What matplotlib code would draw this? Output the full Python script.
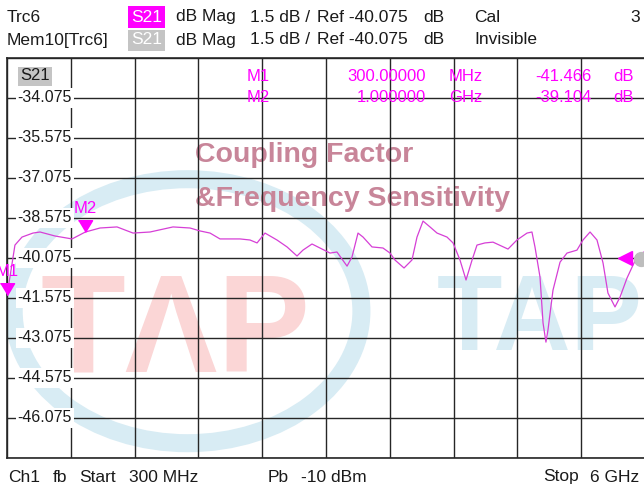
import matplotlib

matplotlib.use("Agg")

import matplotlib.pyplot as plt
from matplotlib.patches import Ellipse, Rectangle
from matplotlib.transforms import blended_transform_factory
import numpy as np

# instrument settings
START_GHZ = 0.3
STOP_GHZ = 6.0
REF_DB = -40.075
DB_PER_DIV = 1.5
N_DIV = 10

# trace
FREQ_GHZ = [0.300, 0.336, 0.371, 0.434, 0.532, 0.595, 0.729, 0.881, 1.000, 1.131,
            1.283, 1.426, 1.578, 1.783, 1.935, 2.024, 2.114, 2.203, 2.382, 2.471,
            2.534, 2.605, 2.712, 2.802, 2.891, 2.944, 3.025, 3.096, 3.186, 3.248,
            3.338, 3.382, 3.436, 3.481, 3.561, 3.659, 3.722, 3.766, 3.847, 3.918,
            3.963, 4.017, 4.079, 4.142, 4.231, 4.285, 4.347, 4.401, 4.455, 4.499,
            4.570, 4.642, 4.776, 4.856, 4.946, 4.990, 5.017, 5.062, 5.089, 5.115,
            5.133, 5.178, 5.241, 5.303, 5.392, 5.446, 5.509, 5.571, 5.625, 5.669,
            5.732, 5.777, 5.839, 5.893, 5.937, 5.991]
S21_DB = [-41.47, -40.53, -39.59, -39.29, -39.14, -39.10, -39.25, -39.36, -39.10, -38.95,
          -38.91, -39.14, -39.10, -38.91, -38.95, -39.06, -39.14, -39.36, -39.36, -39.40,
          -39.51, -39.14, -39.40, -39.66, -40.00, -39.78, -39.55, -39.70, -39.89, -39.85,
          -40.38, -40.04, -39.14, -39.29, -39.66, -39.70, -39.89, -40.15, -40.45, -40.15,
          -39.29, -38.69, -38.91, -39.14, -39.29, -39.51, -40.15, -40.90, -40.15, -39.59,
          -39.51, -39.48, -39.74, -39.40, -39.14, -39.10, -39.66, -40.79, -42.51, -43.23,
          -42.78, -41.28, -40.23, -39.89, -39.78, -39.40, -39.10, -39.40, -40.26, -41.39,
          -41.91, -41.54, -40.83, -40.34, -39.96, -39.85]

MARKER_NAMES = ["M1", "M2"]
MARKER_FREQ_GHZ = [0.3, 1.0]
MARKER_FREQ_TEXT = ["300.00000", "1.000000"]
MARKER_UNIT = ["MHz", "GHz"]
MARKER_DB = [-41.466, -39.104]

MAGENTA = "#ff00ff"
TRACE = "#d63fd6"
GRID = "#262626"
W, H = 644, 488

plt.rcParams["font.family"] = ["Liberation Sans", "DejaVu Sans"]


def fx(x):
    return x / W


def fy(y):
    return 1 - y / H


def put(fig, x, y, s, ha="left", size=12.5, color="#1a1a1a", **kw):
    fig.text(fx(x), fy(y), s, ha=ha, va="center", fontsize=size, color=color, **kw)


def box(fig, x0, y0, x1, y1, color):
    fig.patches.append(Rectangle((fx(x0), fy(y1)), (x1 - x0) / W, (y1 - y0) / H,
                                 transform=fig.transFigure, facecolor=color,
                                 edgecolor="none"))


fig = plt.figure(figsize=(W / 100, H / 100), dpi=100)
ax = fig.add_axes([fx(7), 30 / H, 638 / W, 400 / H])

ymin = REF_DB - DB_PER_DIV * N_DIV / 2
ymax = REF_DB + DB_PER_DIV * N_DIV / 2
ax.set_xlim(START_GHZ, STOP_GHZ)
ax.set_ylim(ymin, ymax)
ax.set_xticks(np.linspace(START_GHZ, STOP_GHZ, N_DIV + 1))
yt = np.linspace(ymin, ymax, N_DIV + 1)
ax.set_yticks(yt)
ax.tick_params(length=0, labelbottom=False, labelleft=False)
ax.grid(True, color=GRID, linewidth=1.0)
for s in ax.spines.values():
    s.set_color(GRID)
    s.set_linewidth(1.2)

# watermark logo
ax.add_patch(Ellipse((0.283, 0.367), 0.545, 0.66, transform=ax.transAxes,
                     fill=False, edgecolor="#d8ecf4", linewidth=13, zorder=0.5))
ax.text((40 - 7) / 638, (458 - 372) / 400, "TΛP", transform=ax.transAxes,
        fontsize=100, fontweight="bold", color="#fbd6d6", ha="left",
        va="baseline", zorder=0.6)
ax.text((437 - 7) / 638, (458 - 350) / 400, "TAP", transform=ax.transAxes,
        fontsize=77, fontweight="bold", color="#d8ecf4", ha="left",
        va="baseline", zorder=0.6)
ax.text((195 - 7) / 638, (458 - 162) / 400, "Coupling Factor", transform=ax.transAxes,
        fontsize=20.5, fontweight="bold", color="#c88599", ha="left", va="baseline",
        zorder=0.7)
ax.text((195 - 7) / 638, (458 - 206) / 400, "&Frequency Sensitivity",
        transform=ax.transAxes, fontsize=20.5, fontweight="bold", color="#c88599",
        ha="left", va="baseline", zorder=0.7)

# y labels on white boxes
lab_tr = blended_transform_factory(ax.transAxes, ax.transData)
for v in yt[1:-1]:
    ax.text((72 - 7) / 638, v, f"{v:.3f}", transform=lab_tr, ha="right", va="center",
            fontsize=11.5, color="#1a1a1a", zorder=2.5,
            bbox=dict(facecolor="white", edgecolor="none", pad=1.5))

ax.text((20 - 7) / 638, (458 - 76) / 400, "S21", transform=ax.transAxes, ha="left",
        va="center", fontsize=12, color="#1a1a1a", zorder=2.5,
        bbox=dict(facecolor="#c4c4c4", edgecolor="none", pad=1.5))

ax.plot(FREQ_GHZ, S21_DB, color=TRACE, linewidth=0.9, zorder=3)

tri = [(-0.6, 1.0), (0.6, 1.0), (0.0, 0.0)]
for name, f, d in zip(MARKER_NAMES, MARKER_FREQ_GHZ, MARKER_DB):
    ax.plot([f], [d], marker=tri, markersize=17, color=MAGENTA, zorder=4,
            clip_on=False)
    ax.annotate(name, (f, d), xytext=(0, 17), textcoords="offset points",
                ha="center", va="center", fontsize=12, color=MAGENTA, zorder=4,
                annotation_clip=False)

# reference level arrows at right edge
ax.plot([(625 - 7) / 638], [REF_DB], marker="<", markersize=10, color=MAGENTA,
        transform=lab_tr, zorder=4, clip_on=False)
ax.plot([(641 - 7) / 638], [REF_DB - 0.05], marker="o", markersize=10, color="#bdbdbd",
        transform=lab_tr, zorder=3.9, clip_on=False)

# marker table
for i, name in enumerate(MARKER_NAMES):
    y = 76 + 22 * i
    put(fig, 247, y, name, color=MAGENTA, size=12)
    put(fig, 426, y, MARKER_FREQ_TEXT[i], ha="right", color=MAGENTA, size=12)
    put(fig, 449, y, MARKER_UNIT[i], color=MAGENTA, size=12)
    put(fig, 592, y, f"{MARKER_DB[i]:.3f}", ha="right", color=MAGENTA, size=12)
    put(fig, 613, y, "dB", color=MAGENTA, size=12)

# header
box(fig, 128, 6, 165, 28, MAGENTA)
box(fig, 128, 30, 165, 51, "#c4c4c4")
put(fig, 7, 17, "Trc6")
put(fig, 7, 40, "Mem10[Trc6]")
for y in (17, 40):
    put(fig, 146.5, y, "S21", ha="center", color="white")
    put(fig, 176, y, "dB Mag")
    put(fig, 250, y, "1.5 dB /")
    put(fig, 317, y, f"Ref {REF_DB:.3f}")
    put(fig, 423, y, "dB")
put(fig, 474, 17, "Cal")
put(fig, 474, 40, "Invisible")
put(fig, 630, 17, "3")

# footer
put(fig, 8, 477, "Ch1")
put(fig, 53, 477, "fb")
put(fig, 79, 477, "Start")
put(fig, 129, 477, "300 MHz")
put(fig, 268, 477, "Pb")
put(fig, 301, 477, "-10 dBm")
put(fig, 543, 477, "Stop")
put(fig, 590, 477, "6 GHz")

fig.savefig("out.png", dpi=100, facecolor="white")
